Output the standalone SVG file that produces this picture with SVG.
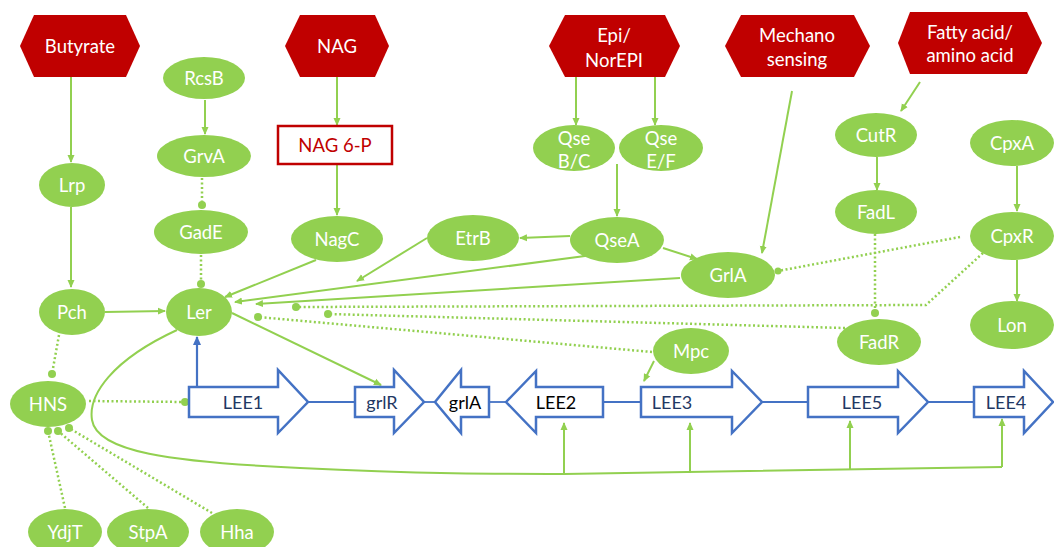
<svg xmlns="http://www.w3.org/2000/svg" width="1054" height="547" viewBox="0 0 1054 547">
<style>
.hex{fill:#C00000;stroke:none}
.nd{fill:#92D050;stroke:none}
.wt{fill:#fff;font-family:Lato,"Liberation Sans",sans-serif;font-size:18.5px;text-anchor:middle;dominant-baseline:central}
.rt{fill:#C00000;font-family:Lato,"Liberation Sans",sans-serif;font-size:18.5px;text-anchor:middle;dominant-baseline:central}
.gt{fill:#1F3864;font-family:Lato,"Liberation Sans",sans-serif;font-size:18px;text-anchor:middle;dominant-baseline:central}
.bt{fill:#000;font-family:Lato,"Liberation Sans",sans-serif;font-size:18px;text-anchor:middle;dominant-baseline:central}
.gene{fill:#fff;stroke:#4472C4;stroke-width:2.5;stroke-linejoin:miter}
.ln{fill:none;stroke:#92D050;stroke-width:2}
.act{fill:none;stroke:#92D050;stroke-width:2;marker-end:url(#ah)}
.dot{fill:none;stroke:#92D050;stroke-width:2.5;stroke-dasharray:2 2.5}
.dotend{fill:#92D050}
.bl{fill:none;stroke:#4472C4;stroke-width:1.8}
</style>
<defs>
<marker id="ah" markerWidth="8" markerHeight="8" refX="7" refY="4" orient="auto" markerUnits="userSpaceOnUse">
<path d="M0,0.5 L8,4 L0,7.5 Z" fill="#92D050"/>
</marker>
<marker id="bh" markerWidth="9" markerHeight="9" refX="8" refY="4.5" orient="auto" markerUnits="userSpaceOnUse">
<path d="M0,0.5 L9,4.5 L0,8.5 Z" fill="#4472C4"/>
</marker>
</defs>
<rect width="1054" height="547" fill="#fff"/>

<g id="connectors">
<line class="act" x1="71" y1="77" x2="71" y2="162"/>
<line class="act" x1="205" y1="100" x2="205" y2="134"/>
<line class="act" x1="337" y1="77" x2="337" y2="125"/>
<line class="act" x1="337" y1="164" x2="337" y2="215"/>
<line class="act" x1="576" y1="77" x2="576" y2="125"/>
<line class="act" x1="655" y1="77" x2="655" y2="125"/>
<line class="act" x1="617" y1="164" x2="617" y2="216"/>
<line class="act" x1="920" y1="82" x2="901" y2="111"/>
<line class="act" x1="877" y1="157" x2="877" y2="190"/>
<line class="act" x1="1017" y1="166" x2="1017" y2="211"/>
<line class="act" x1="1017" y1="260" x2="1017" y2="301"/>
<line class="act" x1="792" y1="91" x2="762" y2="253"/>
<line class="act" x1="71" y1="207" x2="71" y2="287"/>
<line class="act" x1="105" y1="312" x2="165" y2="311"/>
<line class="act" x1="316" y1="260" x2="225" y2="297"/>
<line class="act" x1="570" y1="236" x2="520" y2="238"/>
<line class="act" x1="663" y1="248" x2="697" y2="259"/>
<line class="act" x1="427" y1="238" x2="357" y2="281"/>
<line class="act" x1="585" y1="256" x2="235" y2="302"/>
<line class="act" x1="680" y1="278" x2="256" y2="304"/>
<line class="act" x1="232" y1="313" x2="381" y2="385"/>
<line class="act" x1="654" y1="361" x2="644" y2="381"/>
<line x1="197" y1="387" x2="197" y2="337" stroke="#4472C4" stroke-width="2.2" marker-end="url(#bh)"/>
<path class="ln" d="M177,330 C112,360 88,395 92,420 C97,452 170,462 300,468 C420,474 500,474 564,474 L1002,467"/>
<line class="act" x1="564" y1="474" x2="564" y2="423"/>
<line class="act" x1="690" y1="473" x2="690" y2="423"/>
<line class="act" x1="850" y1="470" x2="850" y2="421"/>
<line class="act" x1="1002" y1="467" x2="1002" y2="419"/>
<line class="dot" x1="202" y1="178" x2="202" y2="205"/>
<circle class="dotend" cx="202" cy="205" r="4"/>
<line class="dot" x1="201" y1="255" x2="201" y2="284"/>
<circle class="dotend" cx="201" cy="284" r="4"/>
<line class="dot" x1="59" y1="335" x2="52" y2="374"/>
<circle class="dotend" cx="52" cy="374" r="4"/>
<line class="dot" x1="89" y1="401" x2="185" y2="402"/>
<circle class="dotend" cx="185" cy="402" r="4"/>
<line class="dot" x1="65" y1="508" x2="48" y2="431"/>
<circle class="dotend" cx="48" cy="431" r="4"/>
<line class="dot" x1="148" y1="508" x2="58" y2="431"/>
<circle class="dotend" cx="58" cy="431" r="4"/>
<line class="dot" x1="212" y1="513" x2="69" y2="428"/>
<circle class="dotend" cx="69" cy="428" r="4"/>
<polyline class="dot" points="983,253 926,305 296,307"/>
<circle class="dotend" cx="296" cy="307" r="4"/>
<line class="dot" x1="845" y1="328" x2="328" y2="314"/>
<circle class="dotend" cx="328" cy="314" r="4"/>
<line class="dot" x1="652" y1="352" x2="258" y2="317"/>
<circle class="dotend" cx="258" cy="317" r="4"/>
<line class="dot" x1="960" y1="237" x2="778" y2="271"/>
<circle class="dotend" cx="778" cy="271" r="3.5"/>
<line class="dot" x1="875" y1="234" x2="875" y2="313"/>
<circle class="dotend" cx="875" cy="313" r="4"/>
<line class="bl" x1="308" y1="402" x2="355" y2="402"/>
<line class="bl" x1="424" y1="402" x2="435" y2="402"/>
<line class="bl" x1="489" y1="402" x2="506" y2="402"/>
<line class="bl" x1="603" y1="402" x2="641" y2="402"/>
<line class="bl" x1="762" y1="402" x2="808" y2="402"/>
<line class="bl" x1="928" y1="402" x2="974" y2="402"/>
</g>

<g id="Butyrate"><polygon class="hex" points="20,46 34,15 126,15 140,46 126,77 34,77"/><text class="wt" x="80" y="46">Butyrate</text></g>
<g id="NAG"><polygon class="hex" points="285,46 300,15 375,15 389,46 375,77 300,77"/><text class="wt" x="337" y="46">NAG</text></g>
<g id="EpiNorEPI"><polygon class="hex" points="549,46 565,15 665,15 680,46 665,77 565,77"/><text class="wt" x="614" y="35">Epi/</text><text class="wt" x="614" y="60">NorEPI</text></g>
<g id="Mechano"><polygon class="hex" points="725,46 741,15 854,15 870,46 854,77 741,77"/><text class="wt" x="797" y="35">Mechano</text><text class="wt" x="797" y="59">sensing</text></g>
<g id="FattyAcid"><polygon class="hex" points="898,43 910,12 1027,12 1042,43 1027,74 910,74"/><text class="wt" x="970" y="32">Fatty acid/</text><text class="wt" x="970" y="55">amino acid</text></g>
<g id="NAG6P"><rect x="278" y="126" width="114" height="38" fill="#fff" stroke="#C00000" stroke-width="2.5"/><text class="rt" x="335" y="145">NAG 6-P</text></g>

<g id="RcsB"><ellipse class="nd" cx="204" cy="78" rx="41" ry="21"/><text class="wt" x="204" y="78">RcsB</text></g>
<g id="GrvA"><ellipse class="nd" cx="204" cy="156" rx="47" ry="21"/><text class="wt" x="204" y="156">GrvA</text></g>
<g id="GadE"><ellipse class="nd" cx="201" cy="232" rx="47" ry="22"/><text class="wt" x="201" y="232">GadE</text></g>
<g id="Lrp"><ellipse class="nd" cx="72" cy="185" rx="33" ry="22"/><text class="wt" x="72" y="185">Lrp</text></g>
<g id="Pch"><ellipse class="nd" cx="72" cy="312" rx="33" ry="23"/><text class="wt" x="72" y="312">Pch</text></g>
<g id="Ler"><ellipse class="nd" cx="199" cy="312" rx="33" ry="24"/><text class="wt" x="199" y="312">Ler</text></g>
<g id="NagC"><ellipse class="nd" cx="337" cy="239" rx="46" ry="23"/><text class="wt" x="337" y="239">NagC</text></g>
<g id="QseBC"><ellipse class="nd" cx="574" cy="148" rx="41" ry="23"/><text class="wt" x="574" y="138">Qse</text><text class="wt" x="574" y="161">B/C</text></g>
<g id="QseEF"><ellipse class="nd" cx="661" cy="148" rx="42" ry="23"/><text class="wt" x="661" y="138">Qse</text><text class="wt" x="661" y="161">E/F</text></g>
<g id="EtrB"><ellipse class="nd" cx="473" cy="238" rx="46" ry="23"/><text class="wt" x="473" y="238">EtrB</text></g>
<g id="QseA"><ellipse class="nd" cx="617" cy="240" rx="47" ry="23"/><text class="wt" x="617" y="240">QseA</text></g>
<g id="GrlA"><ellipse class="nd" cx="728" cy="275" rx="47" ry="23"/><text class="wt" x="728" y="275">GrlA</text></g>
<g id="CutR"><ellipse class="nd" cx="876" cy="135" rx="41" ry="22"/><text class="wt" x="876" y="135">CutR</text></g>
<g id="FadL"><ellipse class="nd" cx="876" cy="212" rx="41" ry="22"/><text class="wt" x="876" y="212">FadL</text></g>
<g id="FadR"><ellipse class="nd" cx="879" cy="342" rx="42" ry="23"/><text class="wt" x="879" y="342">FadR</text></g>
<g id="CpxA"><ellipse class="nd" cx="1012" cy="143" rx="42" ry="23"/><text class="wt" x="1012" y="143">CpxA</text></g>
<g id="CpxR"><ellipse class="nd" cx="1012" cy="236" rx="42" ry="24"/><text class="wt" x="1012" y="236">CpxR</text></g>
<g id="Lon"><ellipse class="nd" cx="1012" cy="325" rx="42" ry="24"/><text class="wt" x="1012" y="325">Lon</text></g>
<g id="Mpc"><ellipse class="nd" cx="691" cy="351" rx="38" ry="23"/><text class="wt" x="691" y="351">Mpc</text></g>
<g id="HNS"><ellipse class="nd" cx="48" cy="404" rx="38" ry="23"/><text class="wt" x="48" y="404">HNS</text></g>
<g id="YdjT"><ellipse class="nd" cx="65" cy="532" rx="37" ry="23"/><text class="wt" x="65" y="532">YdjT</text></g>
<g id="StpA"><ellipse class="nd" cx="148" cy="532" rx="41" ry="23"/><text class="wt" x="148" y="532">StpA</text></g>
<g id="Hha"><ellipse class="nd" cx="237" cy="532" rx="37" ry="23"/><text class="wt" x="237" y="532">Hha</text></g>

<g id="LEE1"><polygon class="gene" points="189,387 278,387 278,370 308,402 278,433 278,417 189,417"/><text class="gt" x="243" y="402">LEE1</text></g>
<g id="grlR"><polygon class="gene" points="355,387 394,387 394,370 424,402 394,433 394,417 355,417"/><text class="gt" x="382" y="402">grlR</text></g>
<g id="grlA"><polygon class="gene" points="435,402 461,370 461,387 489,387 489,417 461,417 461,433"/><text class="bt" x="465" y="402">grlA</text></g>
<g id="LEE2"><polygon class="gene" points="506,402 536,371 536,387 603,387 603,417 536,417 536,433"/><text class="bt" x="556" y="402">LEE2</text></g>
<g id="LEE3"><polygon class="gene" points="641,387 732,387 732,371 762,402 732,433 732,417 641,417"/><text class="gt" x="672" y="402">LEE3</text></g>
<g id="LEE5"><polygon class="gene" points="808,387 898,387 898,371 928,402 898,433 898,417 808,417"/><text class="gt" x="862" y="402">LEE5</text></g>
<g id="LEE4"><polygon class="gene" points="974,387 1024,387 1024,371 1053,402 1024,433 1024,417 974,417"/><text class="gt" x="1006" y="402">LEE4</text></g>
</svg>
